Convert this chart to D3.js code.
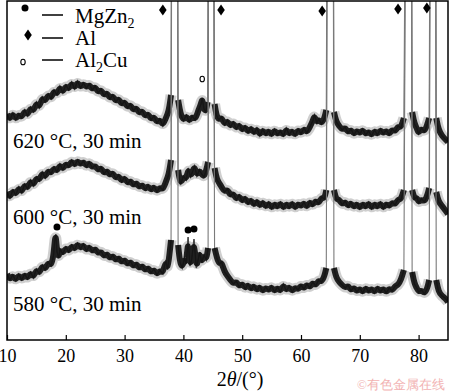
<!DOCTYPE html>
<html><head><meta charset="utf-8">
<script src="https://cdn.jsdelivr.net/npm/d3@7"></script>
<style>
html,body{margin:0;padding:0;background:#fff;}
svg{display:block;}
svg text{font-family:"Liberation Serif","DejaVu Serif","Times New Roman",serif;}
</style></head>
<body><svg id="chart" width="450" height="392"></svg>
<script>
// ---- data (intensity in arbitrary units, curves already offset) ----
const angleTicks = [10, 20, 30, 40, 50, 60, 70, 80];
const angleDomain = [10, 85];
const intensityDomain = [0, 339];

const curveLabels = ["620 °C, 30 min", "600 °C, 30 min", "580 °C, 30 min"];
const labelIntensity = [192, 116, 29];

const curve620 = [[10,226],[10.5,220],[11,227],[11.5,220],[12,226],[12.5,222],[13,230],[13.5,224],[14,233],[14.5,228],[15,238],[15.5,232],[16,243],[16.5,238],[17,246],[17.5,241],[18,250],[18.5,245],[19,254],[19.5,247],[20,255],[20.5,250],[21,258],[21.5,251],[22,259],[22.5,252],[23,257],[23.5,252],[24,256],[24.5,250],[25,254],[25.5,247],[26,251],[26.5,244],[27,248],[27.5,241],[28,245],[28.5,238],[29,242],[29.5,235],[30,239],[30.5,232],[31,236],[31.5,229],[32,233],[32.5,226],[33,230],[33.5,223],[34,227],[34.5,220],[35,224],[35.5,217],[36,221],[36.5,214],[37,222],[37.5,228],[37.9,245],[38.1,700],[38.9,700],[39.1,240],[39.5,226],[40,219],[40.5,225],[41,218],[41.5,224],[42,220],[42.5,229],[43,236],[43.2,242],[43.5,231],[43.8,228],[44.1,238],[44.35,700],[45,700],[45.3,236],[45.6,225],[46,220],[46.5,223],[47,215],[47.5,220],[48,213],[48.5,218],[49,211],[49.5,216],[50,209],[50.5,214],[51,207],[51.5,213],[52,206],[52.5,212],[53,204],[53.5,211],[54,205],[54.5,210],[55,204],[55.5,211],[56,205],[56.5,209],[57,204],[57.5,212],[58,205],[58.5,210],[59,204],[59.5,211],[60,206],[60.5,212],[61,207],[61.5,213],[62,219],[62.3,225],[62.7,217],[63,221],[63.5,216],[64,222],[64.3,230],[64.6,700],[65.4,700],[65.6,228],[66,218],[66.5,214],[67,210],[67.5,213],[68,207],[68.5,211],[69,205],[69.5,210],[70,206],[70.5,211],[71,205],[71.5,209],[72,204],[72.5,210],[73,205],[73.5,211],[74,206],[74.5,210],[75,205],[75.5,211],[76,208],[76.5,214],[77,212],[77.5,222],[78.0,700],[78.7,700],[78.9,228],[79.3,216],[79.7,212],[80,206],[80.5,212],[81,208],[81.5,216],[81.8,222],[82.1,700],[82.8,700],[83,222],[83.4,210],[84,204],[84.5,201],[85,198]];

const curve600 = [[10,148],[10.5,142],[11,150],[11.5,145],[12,153],[12.5,147],[13,156],[13.5,151],[14,160],[14.5,154],[15,163],[15.5,159],[16,168],[16.5,162],[17,170],[17.5,166],[18,173],[18.5,168],[19,176],[19.5,170],[20,177],[20.5,173],[21,180],[21.5,174],[22,180],[22.5,175],[23,179],[23.5,173],[24,178],[24.5,172],[25,175],[25.5,169],[26,173],[26.5,166],[27,170],[27.5,164],[28,168],[28.5,161],[29,165],[29.5,158],[30,163],[30.5,156],[31,160],[31.5,154],[32,158],[32.5,152],[33,156],[33.5,150],[34,155],[34.5,149],[35,154],[35.5,148],[36,153],[36.5,150],[37,158],[37.5,165],[37.9,180],[38.1,700],[38.9,700],[39.1,170],[39.5,155],[40,164],[40.5,160],[40.8,172],[41.2,163],[41.6,169],[41.9,174],[42.3,164],[42.7,170],[43.1,166],[43.5,163],[43.9,170],[44.2,178],[44.35,700],[45,700],[45.3,172],[45.7,160],[46.2,156],[46.6,152],[47,148],[47.5,151],[48,144],[48.5,147],[49,140],[49.5,145],[50,138],[50.5,143],[51,136],[51.5,141],[52,134],[52.5,140],[53,133],[53.5,139],[54,132],[54.5,138],[55,131],[55.5,137],[56,132],[56.5,138],[57,131],[57.5,137],[58,132],[58.5,138],[59,131],[59.5,137],[60,133],[60.5,138],[61,132],[61.5,139],[62,134],[62.5,140],[63,136],[63.5,143],[64,141],[64.3,150],[64.6,700],[65.4,700],[65.6,150],[66,140],[66.5,141],[67,135],[67.5,139],[68,133],[68.5,138],[69,132],[69.5,137],[70,131],[70.5,137],[71,132],[71.5,138],[72,131],[72.5,137],[73,132],[73.5,138],[74,131],[74.5,137],[75,133],[75.5,138],[76,135],[76.5,141],[77,140],[77.5,150],[78.0,700],[78.7,700],[78.9,150],[79.3,141],[79.7,143],[80,137],[80.5,141],[81,138],[81.5,145],[81.8,152],[82.1,700],[82.8,700],[83,148],[83.4,138],[84,134],[84.5,130],[85,126]];

const curve580 = [[10,66],[10.5,60],[11,65],[11.5,59],[12,66],[12.5,60],[13,66],[13.5,61],[14,68],[14.5,62],[15,71],[15.5,66],[16,75],[16.5,70],[17,78],[17.5,74],[17.9,84],[18.1,98],[18.3,106],[18.5,88],[18.8,82],[19,91],[19.5,86],[20,93],[20.5,88],[21,95],[21.5,90],[22,97],[22.5,91],[23,96],[23.5,89],[24,94],[24.5,88],[25,92],[25.5,86],[26,89],[26.5,83],[27,87],[27.5,81],[28,85],[28.5,79],[29,83],[29.5,77],[30,81],[30.5,75],[31,79],[31.5,73],[32,77],[32.5,71],[33,75],[33.5,69],[34,73],[34.5,67],[35,71],[35.5,65],[36,70],[36.5,66],[37,80],[37.3,70],[37.6,84],[37.9,100],[38.1,700],[38.9,700],[39.1,95],[39.4,78],[39.8,72],[40.2,82],[40.5,76],[40.8,103],[41.1,74],[41.4,80],[41.8,101],[42.2,72],[42.5,80],[42.8,88],[43.1,77],[43.5,85],[43.9,80],[44.2,92],[44.35,700],[45,700],[45.3,92],[45.7,82],[46.1,76],[46.5,78],[47,68],[47.5,64],[48,60],[48.5,56],[49,59],[49.5,53],[50,57],[50.5,51],[51,56],[51.5,50],[52,55],[52.5,49],[53,54],[53.5,48],[54,53],[54.5,49],[55,54],[55.5,48],[56,53],[56.5,48],[57,56],[57.5,49],[58,54],[58.5,48],[59,53],[59.5,50],[60,55],[60.5,51],[61,56],[61.5,52],[62,58],[62.5,54],[63,60],[63.5,58],[64,64],[64.3,72],[64.6,700],[65.4,700],[65.6,72],[66,62],[66.5,58],[67,55],[67.5,52],[68,55],[68.5,49],[69,53],[69.5,48],[70,52],[70.5,47],[71,53],[71.5,48],[72,52],[72.5,47],[73,53],[73.5,48],[74,52],[74.5,47],[75,52],[75.5,49],[76,54],[76.5,55],[77,60],[77.5,70],[78.0,700],[78.7,700],[78.9,68],[79.3,56],[79.7,52],[80,48],[80.5,50],[81,46],[81.5,52],[81.8,60],[82.1,700],[82.8,700],[83,60],[83.4,48],[84,44],[84.5,42],[85,38]];

const curves = [curve620, curve600, curve580];

// phase markers [2theta, intensity]
const mgzn2Marks = [[18.5, 113], [40.8, 110], [41.8, 111]];
const alMarks = [[36.5, 330], [46.4, 330], [63.6, 329], [76.5, 331], [81.4, 332]];
const al2cuMarks = [[43.2, 261]];

const legendPhases = [
  {name: "MgZn", sub: "2", tail: "", symbol: "circle"},
  {name: "Al", sub: "", tail: "", symbol: "diamond"},
  {name: "Al", sub: "2", tail: "Cu", symbol: "ring"}
];

// ---- drawing ----
const SERIF = "'Liberation Serif','DejaVu Serif','Times New Roman',serif";
const svg = d3.select("#chart");
const L = 7, R = 448, T = 1, B = 340;
const x = d3.scaleLinear().domain(angleDomain).range([L, R]);
const y = d3.scaleLinear().domain(intensityDomain).range([B, T]);

svg.append("defs").append("clipPath").attr("id", "clip")
  .append("rect").attr("x", L).attr("y", T).attr("width", R - L).attr("height", B - T);

const plot = svg.append("g").attr("clip-path", "url(#clip)");

const bandLine = d3.line().x(d => x(d[0])).y(d => y(d[1])).defined(d => d[1] < 400).curve(d3.curveBasis);
const rawBand = d3.line().x(d => x(d[0])).y(d => y(d[1])).defined(d => d[1] < 400);
const fullLine = d3.line().x(d => x(d[0])).y(d => y(d[1]));

curves.forEach(c => {
  // thin trace (grey walls of the strong peaks)
  plot.append("path").datum(c).attr("d", fullLine)
    .attr("fill", "none").attr("stroke", "#7a7a7a").attr("stroke-width", 1.1);
  // fuzzy halo
  plot.append("path").datum(c).attr("d", bandLine)
    .attr("fill", "none").attr("stroke", "#888").attr("stroke-width", 11)
    .attr("stroke-opacity", 0.4).attr("stroke-linejoin", "round");
  // jagged noise trace
  plot.append("path").datum(c).attr("d", rawBand)
    .attr("fill", "none").attr("stroke", "#444").attr("stroke-width", 1.3)
    .attr("stroke-linejoin", "miter");
  // dark core of the noisy band
  plot.append("path").datum(c).attr("d", bandLine)
    .attr("fill", "none").attr("stroke", "#111").attr("stroke-width", 6)
    .attr("stroke-opacity", 0.92).attr("stroke-linejoin", "round");
});

// frame
svg.append("rect").attr("x", L).attr("y", T).attr("width", R - L).attr("height", B - T)
  .attr("fill", "none").attr("stroke", "#000").attr("stroke-width", 1.5);

// axis
const axis = d3.axisBottom(x).tickValues(angleTicks).tickFormat(d3.format("d"))
  .tickSizeInner(-5).tickSizeOuter(0).tickPadding(9);
const gx = svg.append("g").attr("transform", `translate(0,${B})`).call(axis);
gx.attr("font-family", SERIF);
gx.select(".domain").remove();
gx.selectAll(".tick line").attr("stroke", "#000").attr("stroke-width", 1.2);
gx.selectAll(".tick text").attr("font-size", 18).attr("fill", "#000").attr("font-family", SERIF);

// axis title
const title = svg.append("text").attr("x", 240).attr("y", 386).attr("font-family", SERIF)
  .attr("text-anchor", "middle").attr("font-size", 20).attr("fill", "#000");
title.append("tspan").text("2");
title.append("tspan").attr("font-style", "italic").text("θ");
title.append("tspan").text("/(°)");

// sample labels
curveLabels.forEach((t, i) => {
  svg.append("text").attr("x", 13).attr("y", y(labelIntensity[i])).attr("font-family", SERIF)
    .attr("font-size", 21).attr("fill", "#000").text(t);
});

// markers
const diamond = (cx, cy) => `M${cx},${cy - 5.5}L${cx + 3.8},${cy}L${cx},${cy + 5.5}L${cx - 3.8},${cy}Z`;
svg.selectAll(".mg").data(mgzn2Marks).join("circle")
  .attr("cx", d => x(d[0])).attr("cy", d => y(d[1])).attr("r", 3.5).attr("fill", "#000");
svg.selectAll(".al").data(alMarks).join("path")
  .attr("d", d => diamond(x(d[0]), y(d[1]))).attr("fill", "#000");
svg.selectAll(".cu").data(al2cuMarks).join("ellipse")
  .attr("cx", d => x(d[0])).attr("cy", d => y(d[1])).attr("rx", 2.2).attr("ry", 2.8)
  .attr("fill", "none").attr("stroke", "#000").attr("stroke-width", 1.1);

// legend
const symY = [8, 35, 62], lineY = [15, 38, 60], textY = [23, 45, 67];
legendPhases.forEach((p, i) => {
  const g = svg.append("g");
  if (p.symbol === "circle") g.append("circle").attr("cx", 25).attr("cy", symY[i]).attr("r", 3.5).attr("fill", "#000");
  if (p.symbol === "diamond") g.append("path").attr("d", diamond(28, symY[i])).attr("fill", "#000");
  if (p.symbol === "ring") g.append("ellipse").attr("cx", 23).attr("cy", symY[i]).attr("rx", 2.2).attr("ry", 2.8)
    .attr("fill", "none").attr("stroke", "#000").attr("stroke-width", 1.1);
  g.append("line").attr("x1", 42).attr("x2", 63).attr("y1", lineY[i]).attr("y2", lineY[i])
    .attr("stroke", "#000").attr("stroke-width", 1.5);
  const t = g.append("text").attr("x", 75).attr("y", textY[i]).attr("font-family", SERIF)
    .attr("font-size", 21).attr("fill", "#000");
  t.append("tspan").text(p.name);
  if (p.sub) t.append("tspan").attr("font-size", 14).attr("dy", 5).text(p.sub);
  if (p.tail) t.append("tspan").attr("dy", -5).text(p.tail);
});

// watermark
svg.append("text").attr("x", 445).attr("y", 389).attr("text-anchor", "end")
  .attr("font-size", 13).attr("fill", "#f2b3b3")
  .attr("font-family", "'Noto Sans CJK SC',sans-serif").text("©有色金属在线");
</script></body></html>
